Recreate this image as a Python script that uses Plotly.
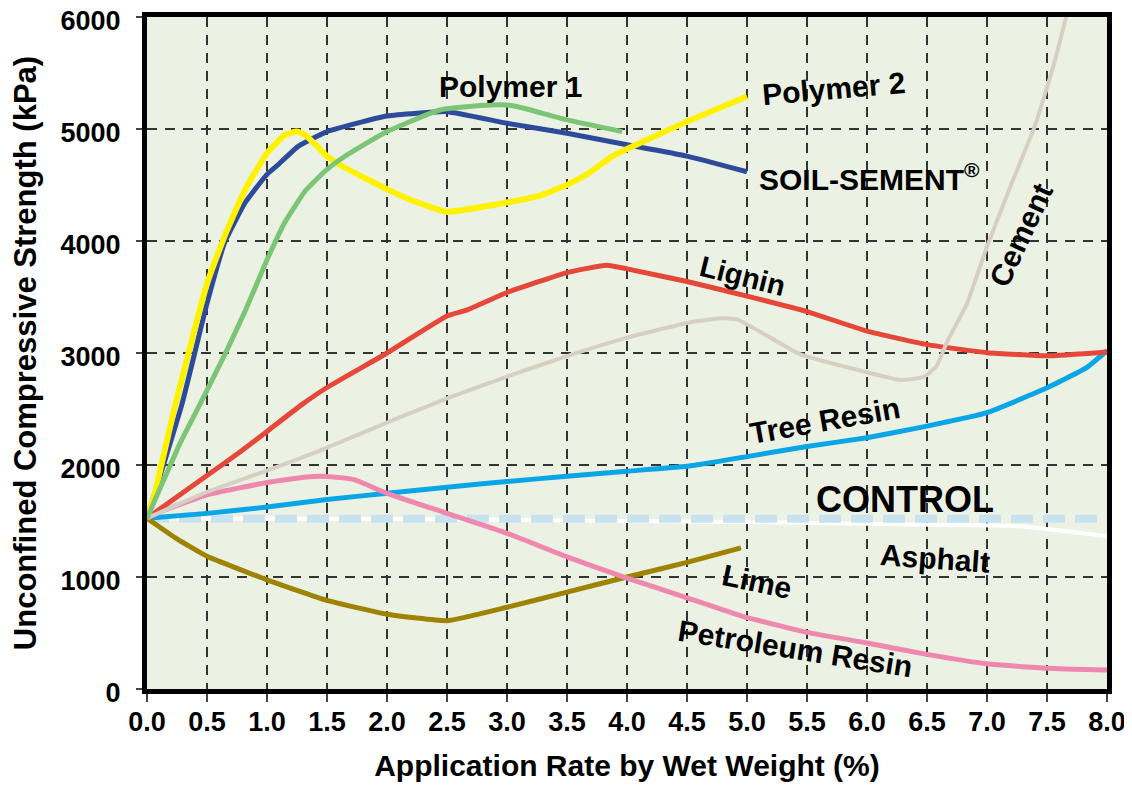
import plotly.graph_objects as go

# application rate (%) vs unconfined compressive strength (kPa)
poly2_x = [0, 0.055, 0.236, 0.5, 0.65, 0.82, 1.0, 1.15, 1.25, 1.32, 1.5, 1.65, 2.0, 2.21, 2.5,
           3.0, 3.28, 3.5, 3.67, 3.88, 4.0, 4.5, 5.0]
poly2_y = [1525, 1706, 2539, 3619, 4053, 4463, 4786, 4947, 4977, 4947, 4757, 4654, 4463, 4361, 4262,
           4344, 4408, 4501, 4598, 4758, 4822, 5066, 5290]

soil_x = [0, 0.29, 0.5, 0.65, 0.82, 1.0, 1.08, 1.26, 1.5, 2.0, 2.5, 3.0, 3.5, 4.0, 4.5, 5.0]
soil_y = [1525, 2539, 3443, 3994, 4346, 4595, 4669, 4845, 4977, 5116, 5155, 5051, 4962, 4860, 4758, 4618]

poly1_x = [0, 0.28, 0.44, 0.65, 0.82, 1.0, 1.15, 1.32, 1.5, 1.65, 2.0, 2.44, 2.78, 3.0, 3.14, 3.5, 3.96]
poly1_y = [1525, 2204, 2539, 2990, 3379, 3832, 4170, 4449, 4639, 4757, 4977, 5170, 5209, 5215, 5185, 5081, 4977]

lignin_x = [0, 0.5, 0.78, 1.0, 1.29, 1.5, 2.0, 2.5, 2.67, 3.0, 3.5, 3.83, 4.0, 4.5, 5.0, 5.5,
            6.0, 6.5, 7.0, 7.5, 8.0]
lignin_y = [1525, 1906, 2120, 2300, 2539, 2692, 3000, 3330, 3385, 3540, 3718, 3783, 3751, 3638, 3508, 3370,
            3195, 3075, 3003, 2975, 3010]

cement_x = [0, 0.5, 1.0, 1.42, 2.11, 2.5, 3.0, 3.5, 4.0, 4.5, 4.78, 4.92, 5.44, 6.0, 6.28, 6.47,
            6.58, 6.67, 6.83, 7.0, 7.2, 7.4, 7.55, 7.66]
cement_y = [1525, 1760, 1950, 2120, 2427, 2594, 2790, 2972, 3137, 3268, 3310, 3300, 2990, 2828, 2758, 2786,
            2883, 3107, 3433, 3950, 4500, 5030, 5550, 6000]

tree_x = [0, 0.5, 1.0, 1.5, 2.0, 2.5, 3.0, 3.5, 4.0, 4.5, 5.0, 5.5, 6.0, 6.5, 7.0, 7.5, 7.83, 8.0]
tree_y = [1525, 1568, 1624, 1692, 1747, 1802, 1852, 1900, 1945, 1988, 2075, 2165, 2244, 2347, 2467, 2689,
          2869, 3020]

asphalt_x = [0, 2.5, 4.0, 5.33, 6.0, 7.08, 7.3, 8.0]
asphalt_y = [1525, 1515, 1500, 1486, 1475, 1459, 1450, 1365]

control_x = [0, 8.0]
control_y = [1520, 1520]

lime_x = [0, 0.25, 0.5, 1.0, 1.5, 2.0, 2.5, 3.0, 3.5, 4.0, 4.5, 4.95]
lime_y = [1525, 1340, 1185, 975, 791, 668, 610, 730, 865, 1000, 1130, 1260]

petro_x = [0, 0.11, 0.5, 1.0, 1.33, 1.5, 1.72, 2.0, 2.5, 3.0, 3.5, 4.0, 4.5, 4.95, 5.5,
           6.0, 6.5, 7.0, 7.5, 8.0]
petro_y = [1525, 1582, 1733, 1843, 1893, 1898, 1871, 1747, 1568, 1390, 1180, 990, 814, 653, 506,
           411, 309, 225, 186, 170]

x_ticks = [i * 0.5 for i in range(17)]
y_ticks = [0, 1000, 2000, 3000, 4000, 5000, 6000]

FONT = "Liberation Sans, Arial, sans-serif"

fig = go.Figure()

# (name, x, y, colour, width, dash) in drawing order
series = [
    ("Asphalt", asphalt_x, asphalt_y, "white", 4, "solid"),
    ("CONTROL", control_x, control_y, "#C8E3EF", 8, "22px,10px"),
    ("Tree Resin", tree_x, tree_y, "#0AA5E4", 5, "solid"),
    ("Lime", lime_x, lime_y, "#9E8300", 5, "solid"),
    ("Petroleum Resin", petro_x, petro_y, "#EF88AE", 5, "solid"),
    ("Lignin", lignin_x, lignin_y, "#E5473A", 5, "solid"),
    ("Cement", cement_x, cement_y, "#D8CFC4", 4, "solid"),
    ("SOIL-SEMENT", soil_x, soil_y, "#2E4B9B", 5, "solid"),
    ("Polymer 2", poly2_x, poly2_y, "#FFF200", 6, "solid"),
    ("Polymer 1", poly1_x, poly1_y, "#7CC576", 5, "solid"),
]

for name, xs, ys, col, w, dash in series:
    fig.add_trace(go.Scatter(
        x=xs, y=ys, mode="lines", name=name,
        line=dict(color=col, width=w, dash=dash, shape="spline", smoothing=0.4),
        hoverinfo="x+y+name"
    ))

# curve labels
labels = [
    ("Polymer 1", 3.03, 5379, 0, 30),
    ("Polymer 2", 5.72, 5361, -5, 30),
    ("SOIL-SEMENT<sup>®</sup>", 6.02, 4574, 0, 30),
    ("Cement", 7.28, 4050, -65, 30),
    ("Lignin", 4.96, 3684, 14, 29),
    ("Tree Resin", 5.65, 2400, -10, 30),
    ("CONTROL", 6.32, 1690, 0, 36),
    ("Asphalt", 6.57, 1165, 4, 30),
    ("Lime", 5.08, 960, 12, 30),
    ("Petroleum Resin", 5.4, 360, 9, 30),
]
for txt, lx, ly, ang, sz in labels:
    fig.add_annotation(x=lx, y=ly, text=txt, textangle=ang, showarrow=False,
                       font=dict(family=FONT, size=sz, color="black", weight="bold"))

fig.update_xaxes(
    range=[0, 8], tickvals=x_ticks, tickformat=".1f", automargin=False,
    ticklabeloverflow="allow",
    showgrid=True, gridcolor="#333333", gridwidth=1.5, griddash="10px,8px",
    showline=True, linewidth=5, linecolor="black", mirror=True,
    ticks="outside", ticklen=8, tickwidth=1.5, tickcolor="#444",
    ticklabelstandoff=-3,
    tickfont=dict(family=FONT, size=27, color="black", weight="bold"),
    zeroline=False,
    title=dict(text="Application Rate by Wet Weight (%)", standoff=20,
               font=dict(family=FONT, size=30, color="black", weight="bold")),
)
fig.update_yaxes(
    range=[0, 6000], tickvals=y_ticks, automargin=False,
    ticklabeloverflow="allow", ticklabelshift=4,
    showgrid=True, gridcolor="#333333", gridwidth=1.5, griddash="10px,8px",
    showline=True, linewidth=5, linecolor="black", mirror=True,
    ticks="outside", ticklen=6, tickwidth=1.5, tickcolor="#444",
    ticklabelstandoff=10,
    tickfont=dict(family=FONT, size=27, color="black", weight="bold"),
    zeroline=False,
    title=dict(text="Unconfined Compressive Strength (kPa)", standoff=18,
               font=dict(family=FONT, size=31, color="black", weight="bold")),
)

# the page body keeps an 8px margin, so the figure is drawn 8px smaller
fig.update_layout(
    width=1124, height=778,
    margin=dict(l=139, r=25, t=9, b=97),
    plot_bgcolor="#EBF2E4", paper_bgcolor="white",
    showlegend=False,
    font=dict(family=FONT, color="black"),
)

fig.write_html("out.html")
